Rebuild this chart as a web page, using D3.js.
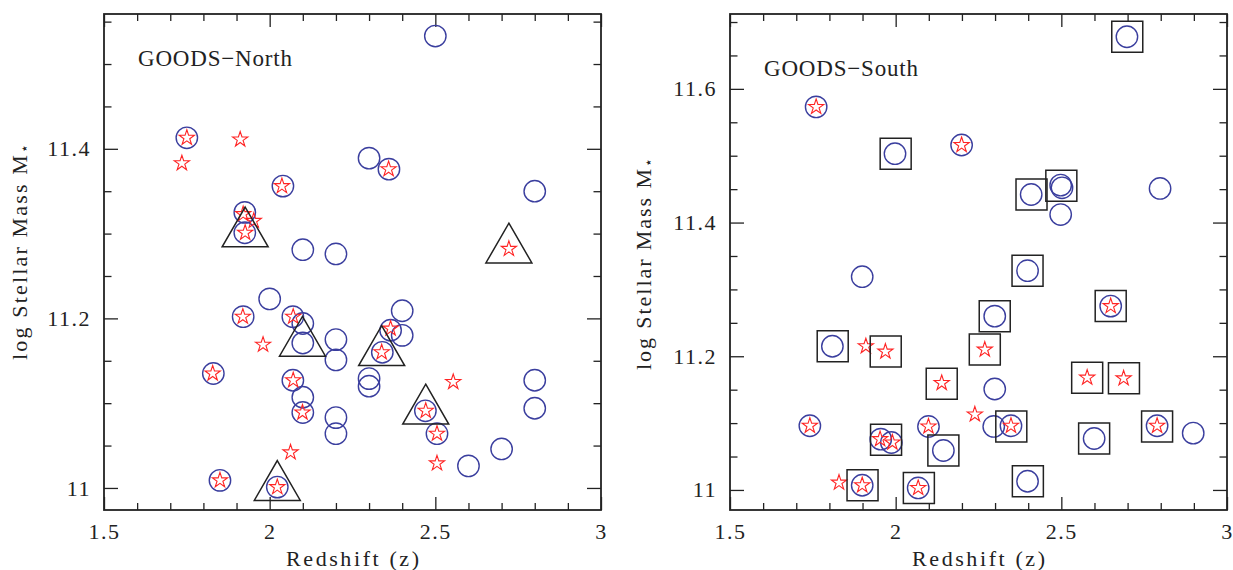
<!DOCTYPE html>
<html>
<head>
<meta charset="utf-8">
<script src="https://cdn.jsdelivr.net/npm/d3@7/dist/d3.min.js"></script>
<style>
  html, body { margin: 0; padding: 0; background: #fff; }
  svg { display: block; }
  text { font-family: "Liberation Serif", "DejaVu Serif", serif; fill: #222; }
</style>
</head>
<body>
<svg id="chart" width="1233" height="570"></svg>
<script>
// ---------------- DATA ----------------
// Tick labels
const xTickValues = [1.5, 2, 2.5, 3];
const xTickLabels = ["1.5", "2", "2.5", "3"];
const yTickValues = [11, 11.2, 11.4, 11.6];
const yTickLabels = ["11", "11.2", "11.4", "11.6"];

// GOODS-North: [redshift z, log stellar mass]
const northCircles = [
  [2.50, 11.533], [1.75, 11.413], [2.30, 11.389], [2.36, 11.376], [2.04, 11.356],
  [2.80, 11.350], [1.925, 11.325], [1.925, 11.301], [2.10, 11.281], [2.20, 11.276],
  [2.00, 11.223], [1.92, 11.202], [2.07, 11.202], [2.10, 11.194], [2.10, 11.171],
  [2.40, 11.209], [2.365, 11.186], [2.40, 11.180], [2.34, 11.160], [2.20, 11.175],
  [2.20, 11.151], [1.83, 11.135], [2.07, 11.127], [2.10, 11.107], [2.10, 11.089],
  [2.30, 11.129], [2.30, 11.120], [2.80, 11.127], [2.80, 11.094], [2.47, 11.091],
  [2.505, 11.064], [2.20, 11.083], [2.20, 11.064], [2.60, 11.026], [2.70, 11.046],
  [1.85, 11.009], [2.023, 11.001]
];
const northStars = [
  [1.75, 11.413], [1.911, 11.411], [1.735, 11.383], [2.359, 11.376], [2.037, 11.356],
  [1.92, 11.323], [1.952, 11.315], [1.926, 11.301], [2.722, 11.282], [1.919, 11.202],
  [2.071, 11.202], [2.365, 11.188], [2.338, 11.160], [1.98, 11.169], [1.828, 11.135],
  [2.071, 11.127], [2.099, 11.089], [2.554, 11.125], [2.471, 11.091], [2.505, 11.064],
  [2.063, 11.042], [2.505, 11.029], [1.85, 11.009], [2.023, 11.001]
];
const northTriangles = [
  [1.926, 11.300], [2.722, 11.281], [2.099, 11.171], [2.338, 11.160],
  [2.471, 11.091], [2.023, 11.001]
];

// GOODS-South: [redshift z, log stellar mass]
const southCircles = [
  [2.698, 11.678], [1.76, 11.573], [1.998, 11.503], [2.199, 11.516], [2.409, 11.442],
  [2.498, 11.456], [2.502, 11.452], [2.498, 11.412], [2.798, 11.451], [2.398, 11.328],
  [1.899, 11.319], [2.649, 11.275], [2.299, 11.260], [1.809, 11.215], [2.299, 11.151],
  [1.741, 11.096], [2.099, 11.095], [2.296, 11.095], [2.348, 11.096], [2.789, 11.096],
  [2.898, 11.085], [2.599, 11.077], [1.955, 11.076], [1.987, 11.071], [2.144, 11.059],
  [1.899, 11.007], [2.068, 11.003], [2.398, 11.013]
];
const southStars = [
  [1.76, 11.573], [2.199, 11.516], [2.649, 11.275], [1.91, 11.215], [1.969, 11.207],
  [2.269, 11.210], [2.139, 11.160], [2.578, 11.168], [2.688, 11.167], [2.239, 11.113],
  [1.741, 11.096], [2.099, 11.095], [2.348, 11.096], [2.789, 11.096], [1.953, 11.076],
  [1.99, 11.071], [1.829, 11.011], [1.899, 11.007], [2.068, 11.003]
];
const southSquares = [
  [2.699, 11.678], [2.000, 11.503], [2.410, 11.442], [2.500, 11.455], [2.398, 11.328],
  [2.649, 11.275], [2.299, 11.260], [1.810, 11.215], [1.970, 11.207], [2.269, 11.210],
  [2.139, 11.159], [2.578, 11.168], [2.689, 11.167], [2.349, 11.095], [2.789, 11.095],
  [2.599, 11.077], [1.971, 11.075], [2.144, 11.059], [1.900, 11.007], [2.070, 11.003],
  [2.399, 11.013]
];

// ---------------- CHART ----------------
const svg = d3.select("#chart");

const panels = [
  { title: "GOODS\u2212North", left: 104, right: 601, top: 14, bottom: 510,
    yDomain: [10.974, 11.559], circles: northCircles, stars: northStars,
    boxes: northTriangles, boxType: d3.symbolTriangle, boxSize: 916,
    titleX: 138, titleY: 66, yLabelX: 27, yLabelY: 252, yLabelLen: 216 },
  { title: "GOODS\u2212South", left: 730, right: 1227, top: 14, bottom: 510,
    yDomain: [10.970, 11.712], circles: southCircles, stars: southStars,
    boxes: southSquares, boxType: d3.symbolSquare, boxSize: 961,
    titleX: 764, titleY: 76, yLabelX: 651, yLabelY: 264, yLabelLen: 212 }
];

const xDomain = [1.5, 3];
const axisColor = "#222";

panels.forEach(p => {
  const x = d3.scaleLinear().domain(xDomain).range([p.left, p.right]);
  const y = d3.scaleLinear().domain(p.yDomain).range([p.bottom, p.top]);
  const g = svg.append("g");

  const xMinor = d3.range(16, 30).map(v => v / 10).filter(v => !xTickValues.includes(v));
  const yMinorAll = d3.range(Math.ceil(p.yDomain[0] * 20), Math.floor(p.yDomain[1] * 20) + 1).map(v => v / 20);
  const yMajor = yTickValues.filter(v => v >= p.yDomain[0] && v <= p.yDomain[1]);
  const yMinor = yMinorAll.filter(v => !yMajor.some(m => Math.abs(m - v) < 1e-6));

  function styleAxis(sel) {
    sel.select(".domain").remove();
    sel.selectAll(".tick line").attr("stroke", axisColor).attr("stroke-width", 1.3);
    sel.selectAll(".tick text")
      .style("font-family", '"Liberation Serif", "DejaVu Serif", serif')
      .style("font-size", "22px").style("letter-spacing", "1.5px").attr("fill", "#222");
  }

  // bottom
  g.append("g").attr("transform", `translate(0,${p.bottom})`)
    .call(d3.axisBottom(x).tickValues(xTickValues).tickSize(-13).tickPadding(13)
      .tickFormat((d, i) => xTickLabels[i]))
    .call(styleAxis);
  g.append("g").attr("transform", `translate(0,${p.bottom})`)
    .call(d3.axisBottom(x).tickValues(xMinor).tickSize(-7).tickFormat(""))
    .call(styleAxis);
  // top
  g.append("g").attr("transform", `translate(0,${p.top})`)
    .call(d3.axisTop(x).tickValues(xTickValues).tickSize(-13).tickFormat(""))
    .call(styleAxis);
  g.append("g").attr("transform", `translate(0,${p.top})`)
    .call(d3.axisTop(x).tickValues(xMinor).tickSize(-7).tickFormat(""))
    .call(styleAxis);
  // left
  g.append("g").attr("transform", `translate(${p.left},0)`)
    .call(d3.axisLeft(y).tickValues(yMajor).tickSize(-14).tickPadding(13)
      .tickFormat(d => yTickLabels[yTickValues.indexOf(d)]))
    .call(styleAxis);
  g.append("g").attr("transform", `translate(${p.left},0)`)
    .call(d3.axisLeft(y).tickValues(yMinor).tickSize(-7.5).tickFormat(""))
    .call(styleAxis);
  // right
  g.append("g").attr("transform", `translate(${p.right},0)`)
    .call(d3.axisRight(y).tickValues(yMajor).tickSize(-14).tickFormat(""))
    .call(styleAxis);
  g.append("g").attr("transform", `translate(${p.right},0)`)
    .call(d3.axisRight(y).tickValues(yMinor).tickSize(-7.5).tickFormat(""))
    .call(styleAxis);

  // frame
  g.append("rect")
    .attr("x", p.left).attr("y", p.top)
    .attr("width", p.right - p.left).attr("height", p.bottom - p.top)
    .attr("fill", "none").attr("stroke", axisColor).attr("stroke-width", 1.8);

  // marks
  const circleSym = d3.symbol().type(d3.symbolCircle).size(360);
  const starSym = d3.symbol().type(d3.symbolStar).size(72);
  const boxSym = d3.symbol().type(p.boxType).size(p.boxSize);

  g.append("g").selectAll("path").data(p.circles).join("path")
    .attr("d", circleSym)
    .attr("transform", d => `translate(${x(d[0])},${y(d[1])})`)
    .attr("fill", "none").attr("stroke", "#3a3e9e").attr("stroke-width", 1.4);

  g.append("g").selectAll("path").data(p.stars).join("path")
    .attr("d", starSym)
    .attr("transform", d => `translate(${x(d[0])},${y(d[1])})`)
    .attr("fill", "none").attr("stroke", "#ff2424").attr("stroke-width", 1.1)
    .attr("stroke-linejoin", "miter");

  g.append("g").selectAll("path").data(p.boxes).join("path")
    .attr("d", boxSym)
    .attr("transform", d => `translate(${x(d[0])},${y(d[1])})`)
    .attr("fill", "none").attr("stroke", "#222").attr("stroke-width", 1.5);

  // panel title
  g.append("text")
    .attr("x", p.titleX).attr("y", p.titleY)
    .attr("textLength", 154).attr("lengthAdjust", "spacing")
    .style("font-size", "23px")
    .text(p.title);

  // x label
  g.append("text")
    .attr("x", (p.left + p.right) / 2).attr("y", 566)
    .attr("text-anchor", "middle")
    .attr("textLength", 133).attr("lengthAdjust", "spacing")
    .style("font-size", "22px")
    .text("Redshift (z)");

  // y label (rotated)
  const yl = g.append("text")
    .attr("transform", `translate(${p.yLabelX},${p.yLabelY}) rotate(-90)`)
    .attr("text-anchor", "middle")
    .attr("textLength", p.yLabelLen).attr("lengthAdjust", "spacing")
    .style("font-size", "22px");
  yl.append("tspan").text("log Stellar Mass M");
  yl.append("tspan").attr("dy", "0.15em").style("font-size", "14px").text("\u22c6");
});
</script>
</body>
</html>
